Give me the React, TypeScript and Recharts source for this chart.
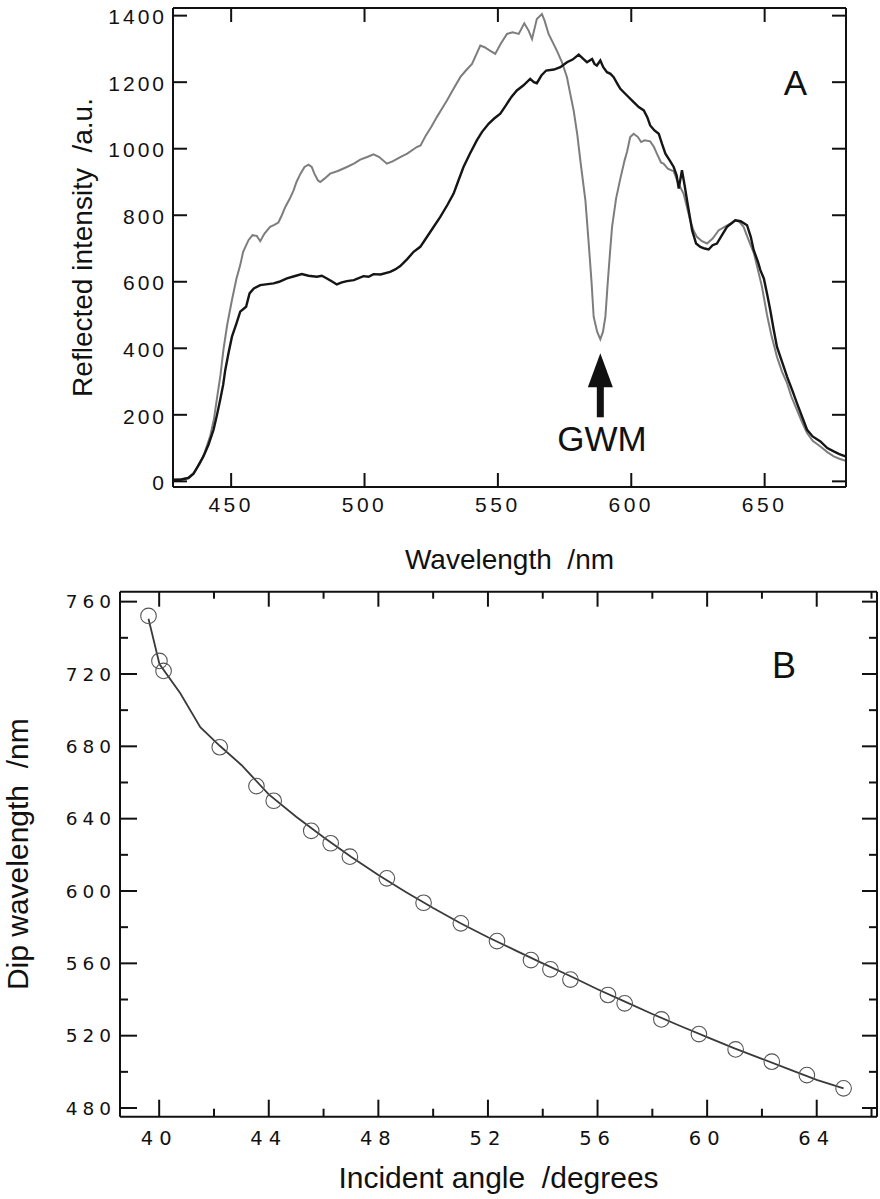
import React from "react";
import {
  LineChart,
  ComposedChart,
  Line,
  Scatter,
  XAxis,
  YAxis,
  ReferenceDot,
} from "recharts";

const FONT = '"Liberation Sans", Arial, Helvetica, sans-serif';
const WIDE = '"DejaVu Sans", Verdana, sans-serif';
const INK = "#111";

// ---- panel A: reflected spectra ----
const grayWl = [
  428.5, 431, 434, 436, 438.4, 440, 442.1, 443.5, 444.6, 446, 447.1, 448.5, 450.3, 452, 453.4, 454.5,
  456.5, 458, 459.6, 460.9, 462.5, 464.6, 466, 467.7, 469, 470.3, 472, 473.4, 474.5, 476, 477.5, 479,
  480.2, 481.2, 482.5, 483.4, 485, 487.1, 490, 493.4, 496, 498.4, 501, 503.4, 505.5, 508.4, 510.5,
  513.4, 516, 519.6, 521, 523, 525, 527.1, 529, 530.9, 533, 535.9, 538, 540.3, 542, 543.4, 545, 547,
  549, 551, 553.4, 555.5, 557.8, 559.9, 561.5, 562.8, 564, 564.6, 566.5, 567.5, 569, 572.1, 574,
  575.9, 577, 578.4, 579.8, 580.9, 582.8, 584, 585.1, 585.9, 587.2, 588.4, 589.4, 590.3, 591.2,
  592.1, 592.8, 594.3, 595.9, 597.5, 598.4, 599.6, 600.9, 602.5, 603.7, 605, 607.1, 608.5, 609.6,
  611.2, 612.1, 613.7, 615.9, 617.2, 618, 619.6, 621, 622.1, 623.3, 624.6, 626.5, 628.4, 630.5,
  632.8, 635, 637.1, 639, 640.5, 642.1, 644, 646, 647.5, 649, 650.9, 652.5, 654.6, 656.5, 658.4,
  660, 662.1, 664, 665.9, 668, 670.9, 673.5, 675.9, 678, 680.3,
];
const grayInt = [
  5, 6, 12, 25, 55, 85, 135, 185, 245, 320, 395, 470, 545, 610, 650, 690,
  725, 740, 738, 722, 745, 765, 770, 778, 800, 825, 850, 875, 900, 925, 945, 952,
  945, 925, 905, 900, 910, 925, 933, 945, 955, 967, 975, 983, 975, 955, 962,
  975, 985, 1005, 1010, 1040, 1065, 1095, 1120, 1145, 1175, 1215, 1235, 1255, 1285, 1310, 1305, 1295,
  1285, 1315, 1345, 1350, 1345, 1377, 1355, 1330, 1370, 1390, 1405, 1385, 1345, 1295, 1260,
  1215, 1170, 1115, 1040, 965, 845, 720, 600, 495, 450, 427, 450, 495, 600,
  695, 765, 850, 910, 965, 990, 1035, 1045, 1035, 1020, 1025, 1022, 1005, 985,
  958, 955, 940, 932, 905, 890, 865, 820, 785, 755, 735, 722, 715, 730,
  755, 765, 775, 785, 780, 765, 725, 685, 635, 585, 500, 440, 375, 330, 295,
  255, 215, 178, 145, 122, 105, 88, 75, 68, 62,
];

const blackWl = [
  428.5, 431, 434, 435.9, 437.5, 439.6, 441.5, 443.4, 444.7, 445.9, 447, 447.8, 449, 450.3, 452,
  453.4, 455.6, 456.9, 458.5, 460.9, 463, 465.9, 468, 470.9, 473, 476.5, 479, 482.1, 484, 485.9,
  488, 489.6, 491.5, 493.4, 496, 499.6, 501.5, 503.4, 506, 509.6, 511.5, 513.4, 516, 518.4, 520.9,
  523, 525.5, 528.4, 531, 533.4, 535, 537.1, 539.5, 542.1, 544, 546.5, 548.5, 550.9, 553, 555,
  557.1, 559.5, 562.1, 563.5, 564.6, 566.3, 568.1, 571, 573.4, 575.9, 578, 580.3, 582, 583.4,
  585.3, 586.2, 587.1, 588.4, 589.5, 590.9, 592.2, 593.4, 594.8, 595.9, 598.4, 600.9, 602.8,
  604.7, 606, 607.1, 608.7, 610.3, 611.5, 612.8, 614.4, 615.9, 617, 617.8, 619, 620, 620.9,
  622.8, 624.3, 625.9, 627.5, 629, 630.5, 632.1, 634, 635.9, 637.5, 639, 641, 643.4, 644.8,
  645.9, 647.5, 648.4, 649.7, 651, 652.1, 653.3, 654.6, 656.5, 658.4, 660.3, 662.1, 664, 665.9,
  668, 670.9, 673.5, 675.9, 678, 680.3,
];
const blackInt = [
  5, 5, 10, 23, 45, 75, 110, 155, 200, 245, 290, 335, 385, 435, 475,
  510, 525, 565, 580, 590, 592, 595, 600, 610, 615, 623, 618, 615, 618, 610,
  600, 592, 598, 602, 605, 617, 615, 623, 622, 630, 637, 647, 668, 690, 705,
  730, 760, 795, 830, 865, 900, 945, 985, 1025, 1050, 1075, 1090, 1105, 1130, 1155,
  1175, 1190, 1210, 1200, 1197, 1220, 1235, 1238, 1245, 1260, 1268, 1283, 1270, 1260,
  1270, 1255, 1250, 1265, 1245, 1230, 1225, 1215, 1195, 1180, 1160, 1140, 1125,
  1115, 1095, 1070, 1055, 1045, 1015, 985, 965, 945, 920, 880, 935, 890, 845,
  755, 715, 705, 700, 697, 710, 715, 740, 765, 775, 785, 782, 770, 735,
  695, 660, 635, 610, 560, 515, 460, 405, 360, 315, 275, 235, 195, 155,
  135, 120, 100, 90, 82, 75,
];

const aXTicks = [450, 500, 550, 600, 650];
const aYTicks = [0, 200, 400, 600, 800, 1000, 1200, 1400];

// ---- panel B: dip wavelength vs incident angle ----
const dipAngle = [
  39.61, 40.01, 40.16, 42.21, 43.55, 44.18, 45.55, 46.26, 46.96, 48.31, 49.65, 51.01,
  52.33, 53.57, 54.28, 55.01, 56.38, 56.99, 58.33, 59.7, 61.04, 62.36, 63.64, 64.98,
];
const dipWl = [
  752.1, 727.2, 721.7, 679.5, 658, 649.9, 633.3, 626.4, 619, 607, 593.5, 582.1,
  572.3, 561.8, 556.7, 551, 542.5, 537.9, 529, 520.9, 512.4, 505.6, 498.2, 490.9,
];
const fitAngle = [
  39.61, 40.01, 40.77, 41.5, 42.21, 43, 44, 45, 46, 47, 48, 49, 50, 51, 52, 53, 54, 55, 56, 57,
  58, 59, 60, 61, 62, 63, 64, 64.98,
];
const fitWl = [
  750.5, 725.5, 709.3, 690.6, 680.3, 669.7, 653.4, 641.1, 629.7, 619, 608.8, 599.5, 590.6, 582.2,
  574.4, 567.2, 560, 553, 545.7, 538.8, 532, 525.5, 519.2, 513, 507.2, 501.4, 495.6, 490.9,
];

const bXMajor = [40, 44, 48, 52, 56, 60, 64];
const bXMinor = [42, 46, 50, 54, 58, 62, 66];
const bYMajor = [480, 520, 560, 600, 640, 680, 720, 760];
const bYMinor = [500, 540, 580, 620, 660, 700, 740];

const grayData = grayWl.map((wl, i) => ({ wl, v: grayInt[i] }));
const blackData = blackWl.map((wl, i) => ({ wl, v: blackInt[i] }));
const dipData = dipAngle.map((a, i) => ({ a, w: dipWl[i] }));
const fitData = fitAngle.map((a, i) => ({ a, w: fitWl[i] }));

type Side = "bottom" | "top" | "left" | "right";
interface TickStyle {
  side: Side;
  gap: number;
  majors: number[];
  majorLen: number;
  minorLen: number;
  label?: boolean;
  font?: string;
  fontSize?: number;
  spacing?: number;
  dy?: number;
}

// inward tick marks, label (if any) outside the frame
function inTick(s: TickStyle) {
  return function TickMark(p: any) {
    const { x, y, payload } = p;
    const v = payload.value as number;
    const major = s.majors.includes(v);
    const len = major ? s.majorLen : s.minorLen;
    let x1 = x, x2 = x, y1 = y, y2 = y;
    let tx = x, ty = y;
    let anchor: "middle" | "end" = "middle";
    if (s.side === "bottom") {
      y1 = y - s.gap;
      y2 = y1 - len;
      ty = y + (s.dy || 0);
    } else if (s.side === "top") {
      y1 = y + s.gap;
      y2 = y1 + len;
    } else if (s.side === "left") {
      x1 = x + s.gap;
      x2 = x1 + len;
      ty = y + (s.dy || 0);
      anchor = "end";
    } else {
      x1 = x - s.gap;
      x2 = x1 - len;
    }
    return (
      <g>
        <line x1={x1} y1={y1} x2={x2} y2={y2} stroke={INK} strokeWidth={2} />
        {s.label && major && (
          <text
            x={tx}
            y={ty}
            textAnchor={anchor}
            fontSize={s.fontSize}
            fontFamily={s.font || FONT}
            letterSpacing={s.spacing}
            fill={INK}
          >
            {v}
          </text>
        )}
      </g>
    );
  };
}

function xTitle(text: string, baseline: number, size: number) {
  return (p: any) => {
    const vb = p.viewBox;
    return (
      <text
        x={vb.x + vb.width / 2}
        y={vb.y + baseline}
        textAnchor="middle"
        fontSize={size}
        fontFamily={FONT}
        fill={INK}
        style={{ whiteSpace: "pre" }}
      >
        {text}
      </text>
    );
  };
}

function yTitle(text: string, baselineX: number, size: number) {
  return (p: any) => {
    const vb = p.viewBox;
    const cy = vb.y + vb.height / 2;
    return (
      <text
        x={baselineX}
        y={cy}
        transform={`rotate(-90, ${baselineX}, ${cy})`}
        textAnchor="middle"
        fontSize={size}
        fontFamily={FONT}
        fill={INK}
        style={{ whiteSpace: "pre" }}
      >
        {text}
      </text>
    );
  };
}

function tag(text: string, size: number) {
  return (p: any) => (
    <text x={p.cx} y={p.cy} textAnchor="middle" fontSize={size} fontFamily={FONT} fill={INK}>
      {text}
    </text>
  );
}

function Arrow(p: any) {
  const { cx, cy } = p;
  return (
    <g fill={INK}>
      <polygon points={`${cx},${cy} ${cx - 12.5},${cy + 34} ${cx + 12.5},${cy + 34}`} />
      <rect x={cx - 3.5} y={cy + 30} width={7} height={34} />
    </g>
  );
}

const frame = { stroke: INK, strokeWidth: 2 };

function PanelA() {
  const xDom: [number, number] = [428.2, 680.5];
  const yDom: [number, number] = [-17, 1423];
  return (
    <LineChart width={880} height={600} margin={{ top: 7, right: 33, bottom: 0, left: 0 }}>
      <XAxis
        xAxisId="b"
        type="number"
        dataKey="wl"
        domain={xDom}
        allowDataOverflow
        ticks={aXTicks}
        interval={0}
        height={113}
        stroke={INK}
        axisLine={frame}
        tickLine={false}
        tickSize={0}
        tickMargin={10}
        tick={inTick({ side: "bottom", gap: 10, majors: aXTicks, majorLen: 14, minorLen: 14, label: true, fontSize: 21, spacing: 3.5, dy: 14.5 })}
        label={xTitle("Wavelength  /nm", 82, 28)}
      />
      <XAxis
        xAxisId="t"
        orientation="top"
        type="number"
        dataKey="wl"
        domain={xDom}
        allowDataOverflow
        ticks={aXTicks}
        interval={0}
        height={1}
        stroke={INK}
        axisLine={frame}
        tickLine={false}
        tickSize={0}
        tickMargin={0}
        tick={inTick({ side: "top", gap: 0, majors: aXTicks, majorLen: 14, minorLen: 14 })}
      />
      <YAxis
        yAxisId="l"
        type="number"
        domain={yDom}
        allowDataOverflow
        ticks={aYTicks}
        interval={0}
        width={173}
        stroke={INK}
        axisLine={frame}
        tickLine={false}
        tickSize={0}
        tickMargin={6}
        tick={inTick({ side: "left", gap: 6, majors: aYTicks, majorLen: 14, minorLen: 14, label: true, fontSize: 21, spacing: 3, dy: 8.7 })}
        label={yTitle("Reflected intensity  /a.u.", 92, 28)}
      />
      <YAxis
        yAxisId="r"
        orientation="right"
        type="number"
        domain={yDom}
        allowDataOverflow
        ticks={aYTicks}
        interval={0}
        width={1}
        stroke={INK}
        axisLine={frame}
        tickLine={false}
        tickSize={0}
        tickMargin={0}
        tick={inTick({ side: "right", gap: 0, majors: aYTicks, majorLen: 14, minorLen: 14 })}
      />
      <Line
        xAxisId="b"
        yAxisId="l"
        data={grayData}
        dataKey="v"
        type="linear"
        stroke="#7d7d7d"
        strokeWidth={2}
        dot={false}
        isAnimationActive={false}
      />
      <Line
        xAxisId="b"
        yAxisId="l"
        data={blackData}
        dataKey="v"
        type="linear"
        stroke="#151515"
        strokeWidth={2.4}
        dot={false}
        isAnimationActive={false}
      />
      <ReferenceDot xAxisId="b" yAxisId="l" x={588.4} y={385} r={0} shape={Arrow} />
      <ReferenceDot xAxisId="b" yAxisId="l" x={589} y={90} r={0} shape={tag("GWM", 35)} />
      <ReferenceDot xAxisId="b" yAxisId="l" x={661.5} y={1160} r={0} shape={tag("A", 35)} />
    </LineChart>
  );
}

function Circle(p: any) {
  return <circle cx={p.cx} cy={p.cy} r={7.8} fill="none" stroke="#555" strokeWidth={1.1} />;
}

function PanelB() {
  const xDom: [number, number] = [38.57, 66.2];
  const yDom: [number, number] = [475.2, 765.5];
  const xTicks = [...bXMajor, ...bXMinor].sort((a, b) => a - b);
  const yTicks = [...bYMajor, ...bYMinor].sort((a, b) => a - b);
  return (
    <ComposedChart width={880} height={639} margin={{ top: 30.7, right: 2, bottom: 0, left: 0 }}>
      <XAxis
        xAxisId="b"
        type="number"
        dataKey="a"
        domain={xDom}
        allowDataOverflow
        ticks={xTicks}
        interval={0}
        height={82.3}
        stroke={INK}
        axisLine={frame}
        tickLine={false}
        tickSize={0}
        tickMargin={10}
        tick={inTick({ side: "bottom", gap: 10, majors: bXMajor, majorLen: 17, minorLen: 8, label: true, font: WIDE, fontSize: 19.5, spacing: 6, dy: 18.3 })}
        label={xTitle("Incident angle  /degrees", 71.3, 30)}
      />
      <XAxis
        xAxisId="t"
        orientation="top"
        type="number"
        dataKey="a"
        domain={xDom}
        allowDataOverflow
        ticks={xTicks}
        interval={0}
        height={1}
        stroke={INK}
        axisLine={frame}
        tickLine={false}
        tickSize={0}
        tickMargin={0}
        tick={inTick({ side: "top", gap: 0, majors: bXMajor, majorLen: 15, minorLen: 7 })}
      />
      <YAxis
        yAxisId="l"
        type="number"
        dataKey="w"
        domain={yDom}
        allowDataOverflow
        ticks={yTicks}
        interval={0}
        width={120}
        stroke={INK}
        axisLine={frame}
        tickLine={false}
        tickSize={0}
        tickMargin={4}
        tick={inTick({ side: "left", gap: 4, majors: bYMajor, majorLen: 17, minorLen: 8, label: true, font: WIDE, fontSize: 18.5, spacing: 5, dy: 6.7 })}
        label={yTitle("Dip wavelength  /nm", 28.5, 30)}
      />
      <YAxis
        yAxisId="r"
        orientation="right"
        type="number"
        dataKey="w"
        domain={yDom}
        allowDataOverflow
        ticks={yTicks}
        interval={0}
        width={1}
        stroke={INK}
        axisLine={frame}
        tickLine={false}
        tickSize={0}
        tickMargin={0}
        tick={inTick({ side: "right", gap: 0, majors: bYMajor, majorLen: 15, minorLen: 8 })}
      />
      <Line
        xAxisId="b"
        yAxisId="l"
        data={fitData}
        dataKey="w"
        type="linear"
        stroke="#3a3a3a"
        strokeWidth={1.8}
        dot={false}
        isAnimationActive={false}
      />
      <Scatter
        xAxisId="b"
        yAxisId="l"
        data={dipData}
        dataKey="w"
        shape={Circle}
        isAnimationActive={false}
      />
      <ReferenceDot xAxisId="b" yAxisId="l" x={62.81} y={717.6} r={0} shape={tag("B", 36)} />
    </ComposedChart>
  );
}

export default function App() {
  return (
    <div
      style={{
        position: "absolute",
        left: 0,
        top: 0,
        width: 880,
        height: 1199,
        background: "#fff",
        overflow: "hidden",
      }}
    >
      <div style={{ position: "absolute", left: 0, top: 0 }}>
        <PanelA />
      </div>
      <div style={{ position: "absolute", left: 0, top: 560 }}>
        <PanelB />
      </div>
    </div>
  );
}
